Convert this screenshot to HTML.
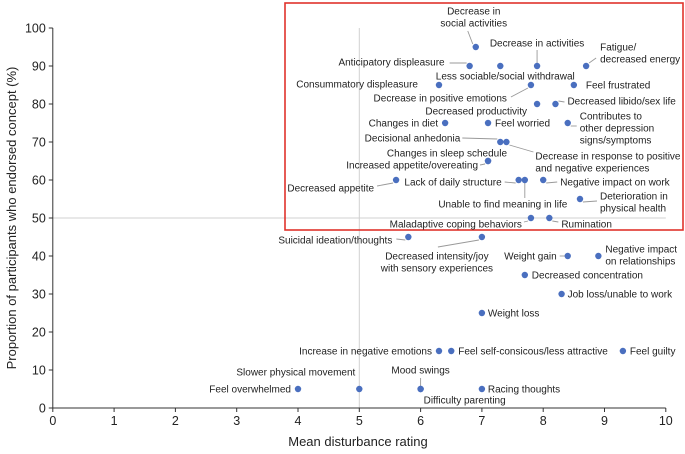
<!DOCTYPE html>
<html><head><meta charset="utf-8">
<style>
html,body{margin:0;padding:0;background:#fff;}
svg{display:block;font-family:"Liberation Sans",Arial,sans-serif;}
</style></head>
<body>
<svg id="chart" width="685" height="454" viewBox="0 0 685 454" xmlns="http://www.w3.org/2000/svg"></svg>
<script>
// Data
const labels = [
 ["Decrease in","social activities"],["Anticipatory displeasure"],["Less sociable/social withdrawal"],["Decrease in activities"],
 ["Fatigue/","decreased energy"],["Consummatory displeasure"],["Decrease in positive emotions"],["Feel frustrated"],
 ["Decreased productivity"],["Decreased libido/sex life"],["Changes in diet"],["Feel worried"],
 ["Contributes to","other depression","signs/symptoms"],["Decisional anhedonia"],["Decrease in response to positive","and negative experiences"],
 ["Changes in sleep schedule"],["Increased appetite/overeating"],["Decreased appetite"],["Lack of daily structure"],
 ["Unable to find meaning in life"],["Negative impact on work"],["Deterioration in","physical health"],["Maladaptive coping behaviors"],
 ["Rumination"],["Suicidal ideation/thoughts"],["Decreased intensity/joy","with sensory experiences"],["Weight gain"],
 ["Negative impact","on relationships"],["Decreased concentration"],["Job loss/unable to work"],["Weight loss"],
 ["Increase in negative emotions"],["Feel self-consicous/less attractive"],["Feel guilty"],["Feel overwhelmed"],
 ["Slower physical movement"],["Mood swings"],["Difficulty parenting"],["Racing thoughts"]
];
const disturbance = [6.9,6.8,7.3,7.9,8.7,6.3,7.8,8.5,7.9,8.2,6.4,7.1,8.4,7.3,7.4,7.1,7.1,5.6,7.6,7.7,8.0,8.6,7.8,8.1,5.8,7.0,8.4,8.9,7.7,8.3,7.0,6.3,6.5,9.3,4,5,6,6,7];
const endorsed = [95,90,90,90,90,85,85,85,80,80,75,75,75,70,70,65,65,60,60,60,60,55,50,50,45,45,40,40,35,30,25,15,15,15,5,5,5,5,5];
const xTicks = [0,1,2,3,4,5,6,7,8,9,10];
const yTicks = [0,10,20,30,40,50,60,70,80,90,100];

// label placement styles: [anchor, dx, dy(first line center), leader(x1,y1 rel to point) or null]
const place = [
 ["middle",-2,-36,[-8,-16]],["end",-25,-4,[-20,-3]],["middle",5,10,null],["middle",0,-23,[0,-16]],
 ["start",14,-19,[10,-8]],["end",-21,-1,null],["end",-24,13,[-20,12]],["start",12,0,null],
 ["end",-10,7,null],["start",12,-3,[9,-2]],["end",-7,0,null],["start",7,0,null],
 ["start",12,-7,[9,3]],["end",-40,-4,[-38,-4]],["start",29,14,[27,10]],
 ["end",19,-8,[-4,3]],["end",-10,4,[-8,4]],["end",-22,8,[-19,6]],["end",-17,2,[-14,2]],
 ["middle",-22,24,[0,18]],["start",17,2,[14,2]],["start",20,-3,[17,2]],["end",-9,6,[-7,4]],
 ["start",12,6,[9,4]],["end",-16,3,[-12,2]],["middle",-45,19,[-44,10]],["end",-11,0,[-8,0]],
 ["start",7,-7,null],["start",7,0,null],["start",6,0,null],["start",6,0,null],
 ["end",-7,0,null],["start",7,0,null],["start",7,0,null],["end",-7,0,null],
 ["end",-4,-17,null],["middle",0,-19,[0,-11]],["start",3,11,null],["start",6,0,null]
];

const svg = document.getElementById('chart');
const NS = 'http://www.w3.org/2000/svg';
const X0 = 52.8, XS = 61.3, Y0 = 408, YS = 3.8;
const xs = v => X0 + v*XS;
const ys = v => Y0 - v*YS;
function mk(tag, attrs, parent){const e=document.createElementNS(NS,tag);for(const k in attrs)e.setAttribute(k,attrs[k]);(parent||svg).appendChild(e);return e;}

let l = mk('line',{x1:xs(5),y1:ys(100),x2:xs(5),y2:ys(0),stroke:'#d0d0d0','stroke-width':1});


l = mk('line',{x1:xs(0),y1:ys(50),x2:xs(10),y2:ys(50),stroke:'#d0d0d0','stroke-width':1});



l = mk('line',{x1:xs(0),y1:ys(0),x2:xs(10),y2:ys(0),stroke:'#333','stroke-width':1});


l = mk('line',{x1:xs(0),y1:ys(0),x2:xs(0),y2:ys(100),stroke:'#333','stroke-width':1});


xTicks.forEach(t=>{
  mk('line',{x1:xs(t),y1:Y0,x2:xs(t),y2:Y0+4,stroke:'#333'});
  const tx=mk('text',{x:xs(t),y:Y0+17,'text-anchor':'middle','font-size':12.5,fill:'#222'});
  tx.textContent=t;
  
  
});
yTicks.forEach(t=>{
  mk('line',{x1:X0-4,y1:ys(t),x2:X0,y2:ys(t),stroke:'#333'});
  const tx=mk('text',{x:X0-7,y:ys(t)+4.5,'text-anchor':'end','font-size':12.5,fill:'#222'});
  tx.textContent=t;
  
  
});
let tt = mk('text',{x:358,y:446,'text-anchor':'middle','font-size':13,fill:'#222'});
tt.textContent='Mean disturbance rating';


tt = mk('text',{x:0,y:0,transform:'translate(16,218) rotate(-90)','text-anchor':'middle','font-size':13,fill:'#222'});
tt.textContent='Proportion of participants who endorsed concept (%)';



let box = mk('rect',{x:285,y:3,width:398,height:227,fill:'none',stroke:'#e0332c','stroke-width':1.6});



labels.forEach((lines,i)=>{
  const px=xs(disturbance[i]), py=ys(endorsed[i]);
  const p=place[i];
  if(p[3]){
    const ln=mk('line',{x1:px+p[3][0],y1:py+p[3][1],x2:px+(p[3][0]>0?3:p[3][0]<0?-3:0),y2:py+(p[3][1]>0?3:p[3][1]<0?-3:0),stroke:'#999','stroke-width':0.9});
    
    
  }
  const c=mk('circle',{cx:px,cy:py,r:3.2,fill:'#4a6fbf'});
  
  
  lines.forEach((s,j)=>{
    const t=mk('text',{x:px+p[1],y:py+p[2]+j*12+3.6,'text-anchor':p[0],'font-size':10,fill:'#222'});
    t.textContent=s;
    
    
  });
});
</script>
</body></html>
